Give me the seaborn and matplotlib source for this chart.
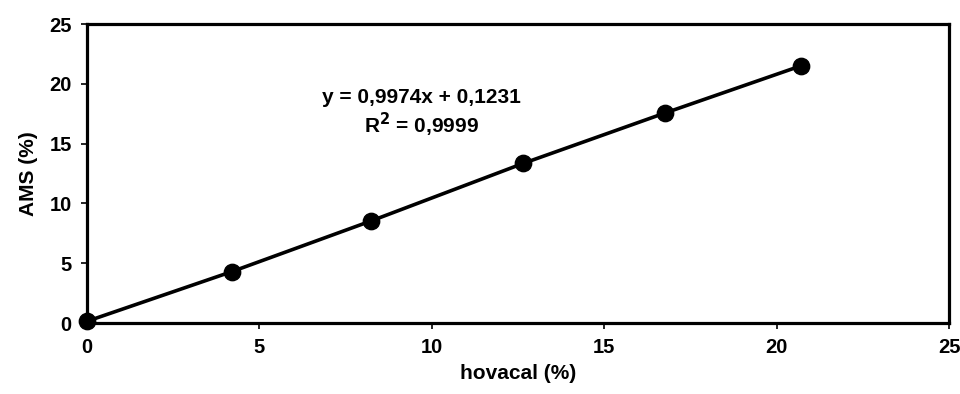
import matplotlib
matplotlib.use("Agg")
import matplotlib.pyplot as plt
import seaborn as sns
import pandas as pd

hovacal = [0.0, 4.2, 8.25, 12.65, 16.75, 20.7]
ams = [0.15, 4.3, 8.55, 13.35, 17.55, 21.5]
x_ticks = [0, 5, 10, 15, 20, 25]
y_ticks = [0, 5, 10, 15, 20, 25]
equation = "y = 0,9974x + 0,1231"
r2_text = "R$^{2}$ = 0,9999"

sns.set_theme(style="white")
plt.rcParams['font.family'] = ['Liberation Sans', 'DejaVu Sans']
plt.rcParams['font.weight'] = 'bold'
plt.rcParams['mathtext.default'] = 'bf'
plt.rcParams['text.color'] = 'black'
plt.rcParams['axes.labelcolor'] = 'black'
plt.rcParams['xtick.color'] = 'black'
plt.rcParams['ytick.color'] = 'black'

df = pd.DataFrame({"hovacal": hovacal, "ams": ams})

fig = plt.figure(figsize=(9.6, 3.94), dpi=100)
ax = fig.add_axes([0.0906, 0.18, 0.898, 0.759])

sns.lineplot(data=df, x="hovacal", y="ams", ax=ax, color="black", linewidth=2.6)
sns.scatterplot(data=df, x="hovacal", y="ams", ax=ax, color="black", s=140,
                edgecolor="black", zorder=5, clip_on=False)

ax.set_xlim(0, 25)
ax.set_ylim(0, 25)
ax.set_xticks(x_ticks)
ax.set_yticks(y_ticks)
ax.tick_params(axis="both", direction="out", length=4, width=1.2, colors="black",
               labelsize=14.5, pad=7, bottom=True, left=True)
for lab in ax.get_xticklabels() + ax.get_yticklabels():
    lab.set_fontweight("bold")

for sp in ax.spines.values():
    sp.set_visible(True)
    sp.set_color("black")
    sp.set_linewidth(2.3)

ax.set_xlabel("hovacal (%)", fontsize=15, fontweight="bold", labelpad=5)
ax.set_ylabel("AMS (%)", fontsize=15, fontweight="bold", labelpad=8)

ax.text(9.7, 18.9, equation, ha="center", va="center", fontsize=15, fontweight="bold")
ax.text(9.7, 16.6, r2_text, ha="center", va="center", fontsize=15, fontweight="bold")

fig.savefig("out.png", dpi=100)
